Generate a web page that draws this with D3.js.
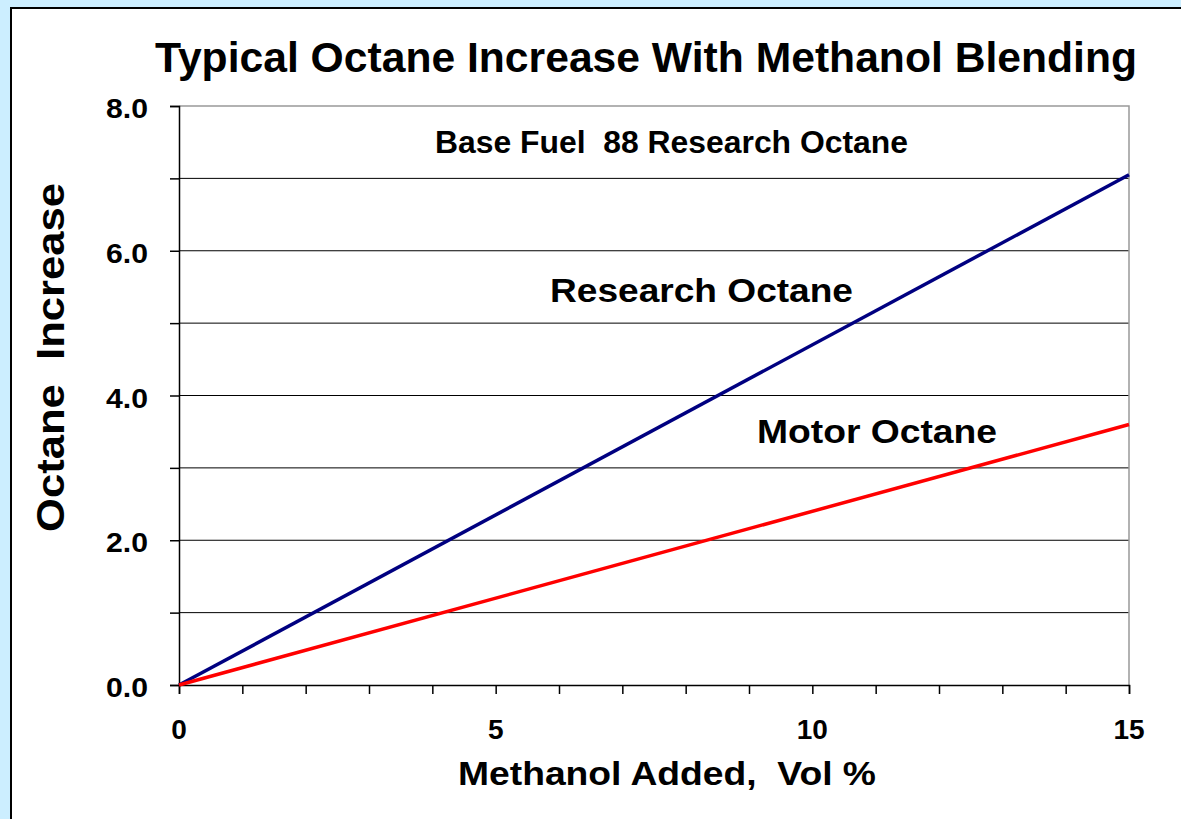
<!DOCTYPE html>
<html>
<head>
<meta charset="utf-8">
<script src="https://cdn.jsdelivr.net/npm/d3@7"></script>
<style>
  body { margin: 0; background: #cceeff; }
  text { font-family: "Liberation Sans", Arial, sans-serif; font-weight: bold; fill: #000; white-space: pre; }
</style>
</head>
<body>
<div id="chart"></div>
<script>
// methanol volume % and octane increase
const methanolPct = [0, 15];
const researchOctane = [0, 7.05];
const motorOctane = [0, 3.6];
const yTicks = [0, 2, 4, 6, 8];
const xTicks = [0, 5, 10, 15];

const width = 1181, height = 819;
const plot = { left: 179, top: 106, right: 1129, bottom: 685 };

const svg = d3.select("#chart").append("svg")
    .attr("width", width)
    .attr("height", height);

// light blue frame + white panel
svg.append("rect").attr("width", width).attr("height", height).attr("fill", "#cceeff");
svg.append("rect")
    .attr("x", 11).attr("y", 8)
    .attr("width", width).attr("height", height)
    .attr("fill", "#fff")
    .attr("stroke", "#000")
    .attr("stroke-width", 2);

const x = d3.scaleLinear().domain([0, 15]).range([plot.left, plot.right]);
const y = d3.scaleLinear().domain([0, 8]).range([plot.bottom, plot.top]);

// gridlines at every 1.0
svg.append("g")
    .selectAll("line")
    .data(d3.range(1, 8))
    .enter()
    .append("line")
    .attr("x1", plot.left).attr("x2", plot.right)
    .attr("y1", d => y(d)).attr("y2", d => y(d))
    .attr("stroke", "#000")
    .attr("stroke-width", 1);

// top and right plot border (grey)
svg.append("path")
    .attr("d", `M${plot.left},${plot.top}H${plot.right}V${plot.bottom}`)
    .attr("fill", "none")
    .attr("stroke", "#999")
    .attr("stroke-width", 1.5);

// y axis
const yAxis = svg.append("g")
    .attr("transform", `translate(${plot.left},0)`)
    .call(d3.axisLeft(y).tickValues(d3.range(0, 9)).tickSize(9).tickFormat(""));
yAxis.select(".domain").attr("stroke-width", 1.5);
yAxis.selectAll(".tick line").attr("stroke-width", 1.5);

svg.append("g")
    .selectAll("text")
    .data(yTicks)
    .enter()
    .append("text")
    .attr("x", 148)
    .attr("y", d => y(d) + 12)
    .attr("text-anchor", "end")
    .attr("textLength", 42)
    .attr("lengthAdjust", "spacingAndGlyphs")
    .style("font-size", "27px")
    .text(d => d.toFixed(1));

// x axis
const xAxis = svg.append("g")
    .attr("transform", `translate(0,${plot.bottom})`)
    .call(d3.axisBottom(x).tickValues(d3.range(0, 16)).tickSize(9).tickFormat(""));
xAxis.select(".domain").attr("stroke-width", 1.5);
xAxis.selectAll(".tick line").attr("stroke-width", 1.5);

svg.append("g")
    .selectAll("text")
    .data(xTicks)
    .enter()
    .append("text")
    .attr("x", d => x(d))
    .attr("y", 739)
    .attr("text-anchor", "middle")
    .style("font-size", "28px")
    .text(d => d);

// lines
const line = d3.line()
    .x((d, i) => x(methanolPct[i]))
    .y(d => y(d));

svg.append("path")
    .datum(researchOctane)
    .attr("d", line)
    .attr("fill", "none")
    .attr("stroke", "#000080")
    .attr("stroke-width", 3.5);

svg.append("path")
    .datum(motorOctane)
    .attr("d", line)
    .attr("fill", "none")
    .attr("stroke", "#ff0000")
    .attr("stroke-width", 3.5);

// stretched text helper: font size for height, textLength for width
function label(tx, ty, size, len, str) {
    return svg.append("text")
        .attr("x", tx)
        .attr("y", ty)
        .attr("textLength", len)
        .attr("lengthAdjust", "spacingAndGlyphs")
        .style("font-size", size + "px")
        .text(str);
}

// title
label(155, 72, 43, 982, "Typical Octane Increase With Methanol Blending");

// axis titles
label(458, 785, 34, 418, "Methanol Added,  Vol %");

svg.append("text")
    .attr("transform", "translate(64,532) rotate(-90)")
    .attr("textLength", 349)
    .attr("lengthAdjust", "spacingAndGlyphs")
    .style("font-size", "38px")
    .text("Octane  Increase");

// annotations
label(435, 153, 31, 473, "Base Fuel  88 Research Octane");
label(550, 302, 34, 303, "Research Octane");
label(757, 443, 34, 240, "Motor Octane");
</script>
</body>
</html>
